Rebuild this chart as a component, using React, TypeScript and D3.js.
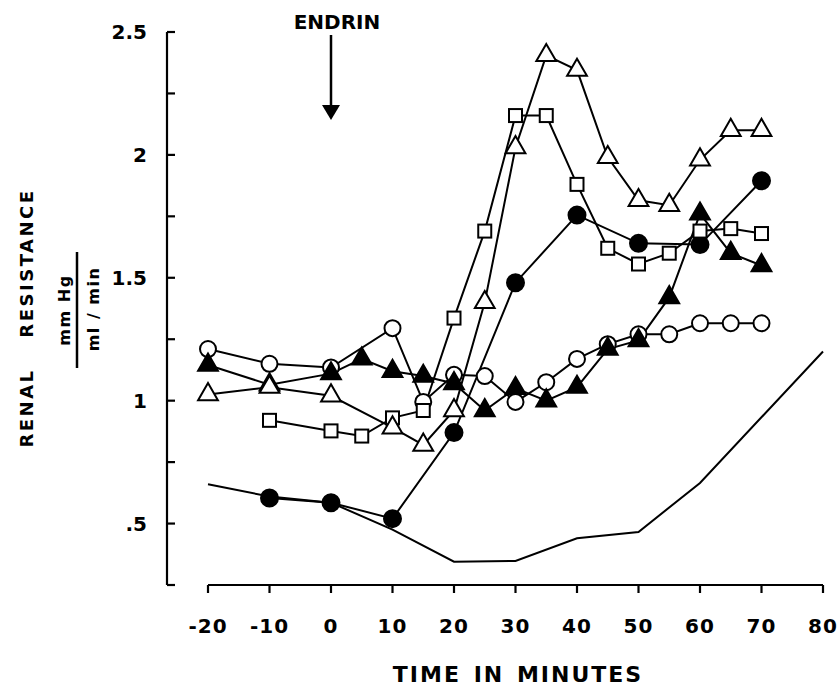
import React from 'react';
import * as d3 from 'd3';

// time points (minutes) and renal resistance values for each animal
const tOpenCircle = [-20, -10, 0, 10, 15, 20, 25, 30, 35, 40, 45, 50, 55, 60, 65, 70];
const openCircle = [1.21, 1.15, 1.135, 1.295, 0.995, 1.105, 1.1, 0.995, 1.075, 1.17, 1.23, 1.27, 1.27, 1.315, 1.315, 1.315];

const tFilledTri = [-20, -10, 0, 5, 10, 15, 20, 25, 30, 35, 40, 45, 50, 55, 60, 65, 70];
const filledTri = [1.145, 1.065, 1.11, 1.17, 1.12, 1.1, 1.07, 0.96, 1.05, 1.0, 1.055, 1.21, 1.245, 1.42, 1.76, 1.6, 1.55];

const tOpenTri = [-20, -10, 0, 10, 15, 20, 25, 30, 35, 40, 45, 50, 55, 60, 65, 70];
const openTri = [1.025, 1.055, 1.02, 0.89, 0.82, 0.96, 1.4, 2.03, 2.405, 2.345, 1.99, 1.815, 1.795, 1.98, 2.1, 2.1];

const tSquare = [-10, 0, 5, 10, 15, 20, 25, 30, 35, 40, 45, 50, 55, 60, 65, 70];
const square = [0.92, 0.877, 0.856, 0.93, 0.96, 1.336, 1.69, 2.16, 2.16, 1.88, 1.62, 1.556, 1.6, 1.69, 1.7, 1.68];

const tFilledCircle = [-10, 0, 10, 20, 30, 40, 50, 60, 70];
const filledCircle = [0.604, 0.585, 0.52, 0.87, 1.48, 1.755, 1.64, 1.635, 1.895];

const tPlain = [-20, -10, 0, 10, 20, 30, 40, 50, 60, 80];
const plain = [0.66, 0.61, 0.585, 0.475, 0.345, 0.348, 0.44, 0.466, 0.665, 1.2];

const xTicks = [-20, -10, 0, 10, 20, 30, 40, 50, 60, 70, 80];
const yTicks = [0.25, 0.5, 0.75, 1, 1.25, 1.5, 1.75, 2, 2.25, 2.5];
const yLabels: Record<string, string> = { '0.5': '.5', '1': '1', '1.5': '1.5', '2': '2', '2.5': '2.5' };

const font = '"DejaVu Sans", sans-serif';

export default function App() {
  const x = d3.scaleLinear().domain([-20, 80]).range([208, 823]);
  const y = d3.scaleLinear().domain([0.25, 2.5]).range([585, 32]);
  const axisX = 167;

  const line = d3.line<[number, number]>().x(d => x(d[0])).y(d => y(d[1]));
  const pts = (t: number[], v: number[]) => t.map((tt, i) => [tt, v[i]] as [number, number]);

  const tri = d3.symbol().type(d3.symbolTriangle).size(170)();

  const series = [
    pts(tPlain, plain),
    pts(tOpenCircle, openCircle),
    pts(tFilledCircle, filledCircle),
    pts(tFilledTri, filledTri),
    pts(tSquare, square),
    pts(tOpenTri, openTri),
  ];

  return (
    <svg width={837} height={689} style={{ position: 'absolute', left: 0, top: 0, background: '#fff' }}>
      {/* axes */}
      <g stroke="#000" strokeWidth={2.2} fill="none">
        <line x1={axisX} x2={axisX} y1={y(2.5)} y2={y(0.25)} />
        {yTicks.map(t => (
          <line key={t} x1={axisX} x2={axisX + 8} y1={y(t)} y2={y(t)} />
        ))}
        <line x1={x(-20)} x2={x(80)} y1={y(0.25)} y2={y(0.25)} />
        {xTicks.map(t => (
          <line key={t} x1={x(t)} x2={x(t)} y1={y(0.25)} y2={y(0.25) + 8} />
        ))}
      </g>
      <g fontFamily={font} fontWeight="bold" fontSize={20} fill="#000">
        {yTicks.filter(t => yLabels[String(t)]).map(t => (
          <text key={t} x={147} y={y(t)} dy="0.36em" textAnchor="end">{yLabels[String(t)]}</text>
        ))}
        {xTicks.map(t => (
          <text key={t} x={x(t)} y={633} textAnchor="middle" letterSpacing={1}>{t}</text>
        ))}
        <text x={518} y={682} textAnchor="middle" fontSize={22} letterSpacing={2} wordSpacing={3}>TIME IN MINUTES</text>
        <text x={337} y={29} textAnchor="middle" fontSize={20}>ENDRIN</text>
        <text transform="translate(33,318) rotate(-90)" textAnchor="middle" fontSize={18} letterSpacing={2.5} wordSpacing={22}>RENAL RESISTANCE</text>
        <text transform="translate(70,310) rotate(-90)" textAnchor="middle" fontSize={16} letterSpacing={1.5}>mm Hg</text>
        <text transform="translate(99,309) rotate(-90)" textAnchor="middle" fontSize={16} letterSpacing={1.5}>ml / min</text>
      </g>
      <line x1={77} x2={77} y1={252} y2={368} stroke="#000" strokeWidth={2.5} />
      {/* endrin arrow */}
      <line x1={x(0)} x2={x(0)} y1={35} y2={108} stroke="#000" strokeWidth={2.5} />
      <path d={`M${x(0) - 9},105 L${x(0) + 9},105 L${x(0)},120 Z`} fill="#000" />

      {/* series lines */}
      <g stroke="#000" strokeWidth={2} fill="none">
        {series.map((s, i) => <path key={i} d={line(s) || ''} />)}
      </g>

      {/* markers */}
      <g stroke="#000" strokeWidth={2}>
        {series[1].map((d, i) => <circle key={'oc' + i} cx={x(d[0])} cy={y(d[1])} r={8} fill="#fff" />)}
        {series[2].map((d, i) => <circle key={'fc' + i} cx={x(d[0])} cy={y(d[1])} r={8.5} fill="#000" />)}
        {series[3].map((d, i) => <path key={'ft' + i} d={tri || ''} transform={`translate(${x(d[0])},${y(d[1])})`} fill="#000" />)}
        {series[4].map((d, i) => <rect key={'sq' + i} x={x(d[0]) - 6.5} y={y(d[1]) - 6.5} width={13} height={13} fill="#fff" />)}
        {series[5].map((d, i) => <path key={'ot' + i} d={tri || ''} transform={`translate(${x(d[0])},${y(d[1])})`} fill="#fff" />)}
      </g>
    </svg>
  );
}
